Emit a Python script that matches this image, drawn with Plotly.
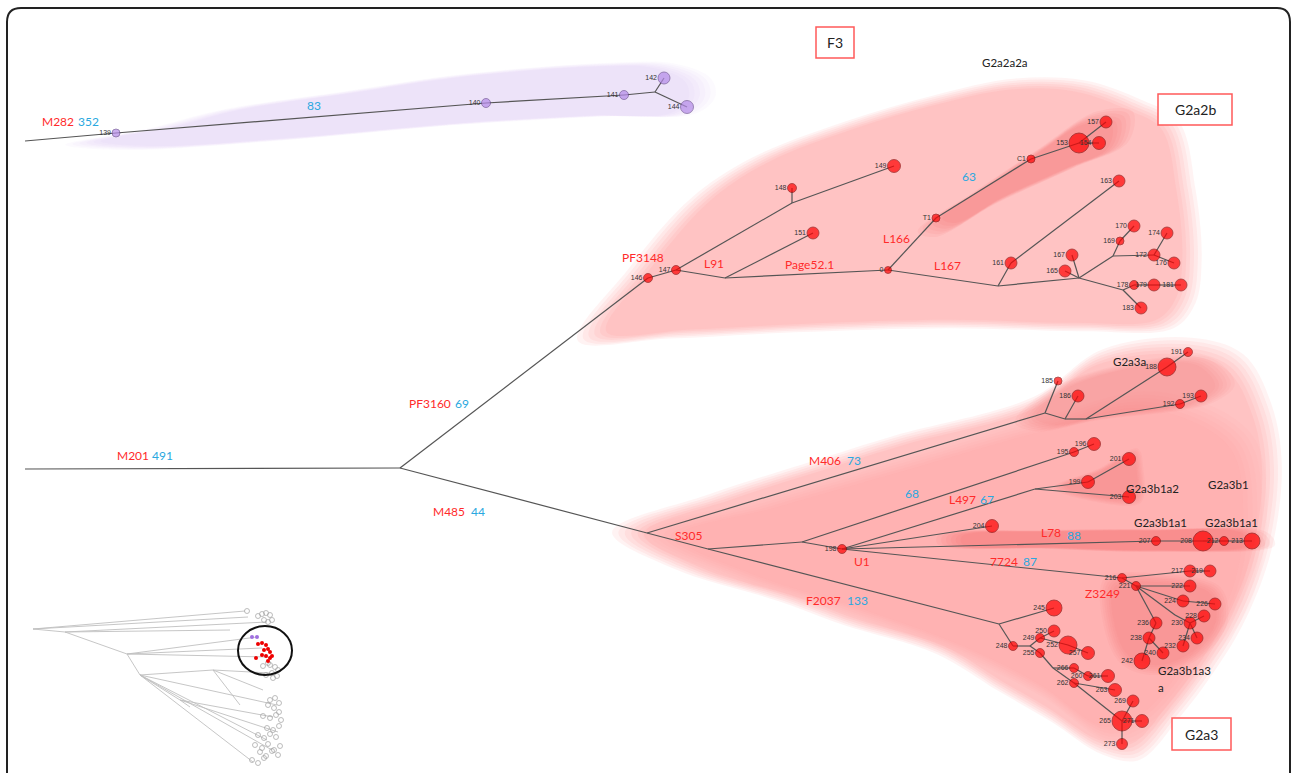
import plotly.graph_objects as go

W, H = 1292, 773

# ---------------- nodes (id, x, y, size) ----------------
node_id = ["139", "140", "141", "142", "144",
           "146", "147", "148", "149", "151", "0", "T1", "C1", "153", "154", "157",
           "161", "163", "165", "167", "169", "170", "172", "174", "176", "178", "179", "181", "183",
           "198", "185", "186", "188", "191", "192", "193", "195", "196", "199", "201", "203", "204",
           "207", "208", "212", "213", "216", "217", "219", "221", "222", "224", "226", "228", "230",
           "232", "234", "236", "238", "240", "242", "245", "248", "249", "250", "252", "255", "257",
           "266", "260", "261", "262", "263", "265", "271", "269", "273"]
node_x = [116, 486, 624, 664, 687,
          648, 676, 792, 894, 813, 888, 936, 1031, 1079, 1099, 1106,
          1011, 1119, 1065, 1072, 1120, 1134, 1154, 1167, 1174, 1134, 1154, 1181, 1141,
          842, 1058, 1078, 1167, 1188, 1180, 1201, 1074, 1094, 1088, 1129, 1129, 992,
          1156, 1203, 1224, 1252, 1122, 1190, 1210, 1136, 1190, 1183, 1215, 1204, 1190,
          1183, 1197, 1156, 1149, 1163, 1142, 1054, 1013, 1040, 1054, 1068, 1040, 1088,
          1074, 1088, 1108, 1074, 1115, 1122, 1142, 1133, 1122]
node_y = [133, 103, 95, 78, 107,
          278, 270, 188, 166, 233, 270, 218, 159, 143, 143, 122,
          263, 181, 271, 255, 241, 226, 255, 233, 263, 285, 285, 285, 308,
          549, 381, 396, 367, 352, 404, 396, 452, 444, 482, 459, 497, 526,
          541, 541, 541, 541, 578, 571, 571, 586, 586, 601, 604, 616, 623,
          646, 638, 623, 638, 653, 661, 608, 646, 638, 631, 645, 653, 653,
          668, 676, 676, 683, 690, 721, 721, 701, 744]
node_size = [8, 9, 9, 12, 13,
             9, 9, 9, 13, 12, 7, 8, 8, 20, 13, 12,
             12, 12, 12, 12, 8, 12, 12, 12, 12, 9, 12, 12, 12,
             9, 8, 12, 18, 9, 9, 12, 9, 13, 13, 13, 13, 13,
             9, 20, 9, 16, 9, 12, 12, 9, 12, 12, 12, 12, 12,
             12, 12, 12, 12, 12, 16, 16, 9, 9, 12, 18, 9, 13,
             9, 9, 13, 9, 13, 20, 13, 12, 11]
purple_ids = ["139", "140", "141", "142", "144"]

# junctions (unlabelled branching points)
junction_id = ["S0", "P", "J0", "J148", "J151", "J161", "J165", "J169", "J178",
               "JS", "Jb", "Jc", "Ja", "J186", "J188", "J199", "J230", "J248", "J249", "J266"]
junction_x = [25, 655, 400, 792, 725, 998, 1079, 1113, 1123,
              647, 708, 802, 1045, 1065, 1086, 1035, 1175, 999, 1030, 1053]
junction_y = [469, 92, 468, 203, 278, 286, 278, 256, 290,
              533, 549, 542, 413, 419, 419, 489, 615, 624, 646, 668]
purple_root = (25, 141)

edges = [("R2", "139"), ("139", "140"), ("140", "141"), ("141", "P"), ("P", "142"), ("P", "144"),
         ("S0", "J0"), ("J0", "146"), ("146", "147"), ("147", "J148"), ("J148", "148"), ("J148", "149"),
         ("147", "J151"), ("J151", "151"), ("J151", "0"), ("0", "T1"), ("T1", "C1"), ("C1", "153"),
         ("153", "154"), ("153", "157"), ("0", "J161"), ("J161", "161"), ("161", "163"), ("J161", "J165"),
         ("J165", "165"), ("J165", "167"), ("J165", "J169"), ("J169", "169"), ("169", "170"), ("J169", "172"),
         ("172", "174"), ("172", "176"), ("J165", "J178"), ("J178", "178"), ("178", "179"), ("179", "181"),
         ("J178", "183"),
         ("J0", "JS"), ("JS", "Ja"), ("JS", "Jb"), ("Jb", "Jc"), ("Jc", "198"), ("Jc", "195"), ("195", "196"),
         ("198", "J199"), ("J199", "199"), ("199", "201"), ("J199", "203"), ("198", "204"), ("198", "207"),
         ("207", "208"), ("208", "212"), ("212", "213"), ("198", "216"), ("216", "217"), ("217", "219"),
         ("216", "221"), ("221", "222"), ("221", "224"), ("224", "226"), ("221", "J230"), ("J230", "230"),
         ("230", "228"), ("230", "234"), ("230", "232"), ("221", "236"), ("236", "238"), ("238", "242"),
         ("238", "240"),
         ("Ja", "185"), ("Ja", "J186"), ("J186", "186"), ("J186", "J188"), ("J188", "188"), ("188", "191"),
         ("J188", "192"), ("192", "193"),
         ("Jb", "J248"), ("J248", "245"), ("J248", "248"), ("248", "J249"), ("J249", "249"), ("J249", "255"),
         ("249", "250"), ("249", "252"), ("252", "257"), ("255", "J266"), ("J266", "266"), ("266", "260"),
         ("260", "261"), ("J266", "262"), ("262", "263"), ("262", "265"), ("265", "269"), ("265", "271"),
         ("265", "273")]

# mutation labels (red) and counts (blue)
red_text = ["M282", "M201", "PF3160", "M485", "PF3148", "L91", "Page52.1", "L166", "L167",
            "M406", "S305", "L497", "U1", "L78", "7724", "F2037", "Z3249"]
red_x = [40, 115, 407, 431, 620, 702, 783, 881, 932, 807, 673, 947, 852, 1039, 988, 804, 1083]
red_y = [121, 455, 403, 511, 257, 263, 264, 238, 265, 460, 535, 499, 561, 532, 561, 600, 593]
blue_text = ["352", "83", "491", "69", "44", "63", "73", "68", "67", "88", "87", "133"]
blue_x = [76, 305, 150, 453, 469, 960, 845, 903, 978, 1065, 1021, 845]
blue_y = [121, 105, 455, 403, 511, 176, 460, 493, 499, 535, 561, 600]
hap_text = ["G2a2a2a", "G2a3a", "G2a3b1a2", "G2a3b1", "G2a3b1a1", "G2a3b1a1", "G2a3b1a3", "a"]
hap_x = [980, 1111, 1124, 1206, 1132, 1203, 1156, 1156]
hap_y = [62, 361, 488, 484, 522, 522, 670, 687]
box_text = ["F3", "G2a2b", "G2a3"]
box_x0 = [816, 1158, 1172]
box_y0 = [27, 94, 718]
box_x1 = [854, 1232, 1231]
box_y1 = [58, 125, 750]

# shaded haplogroup regions
blob_purple = [(83, 143), (160, 128), (230, 110), (350, 92), (459, 76), (597, 65), (665, 66), (698, 80),
               (702, 97), (684, 113), (597, 116), (459, 124), (275, 140), (138, 148)]
blob_top = [(592, 336), (640, 268), (700, 200), (760, 160), (850, 125), (935, 100), (1013, 84),
            (1080, 86), (1135, 105), (1170, 125), (1186, 190), (1192, 257), (1186, 300), (1165, 324),
            (1080, 327), (950, 324), (800, 328), (680, 334)]
blob_top_dark = [(930, 225), (980, 190), (1040, 150), (1090, 118), (1122, 118), (1118, 145),
                 (1070, 168), (1000, 200), (945, 230)]
blob_bottom = [(628, 533), (720, 497), (820, 465), (900, 440), (1033, 403), (1100, 357), (1185, 346),
               (1235, 362), (1262, 410), (1272, 470), (1262, 550), (1237, 617), (1207, 667),
               (1173, 712), (1135, 752), (1100, 747), (1050, 715), (1000, 686), (940, 650),
               (850, 622), (787, 599), (687, 568)]
blob_bottom_mid = [(660, 535), (760, 505), (900, 465), (1040, 425), (1150, 400), (1240, 440), (1255, 520),
                   (1240, 600), (1200, 660), (1150, 720), (1110, 735), (1040, 690), (960, 650),
                   (850, 610), (740, 575)]
blob_g2a3a = [(1025, 420), (1060, 388), (1150, 362), (1205, 362), (1225, 385), (1205, 402),
              (1100, 418), (1045, 428)]
blob_b1a2 = [(1060, 487), (1100, 470), (1135, 452), (1140, 470), (1138, 500), (1100, 500)]
blob_l78 = [(950, 536), (1050, 531), (1150, 530), (1255, 533), (1262, 545), (1150, 551), (1050, 548),
            (950, 544)]
blob_z = [(1110, 582), (1160, 578), (1215, 590), (1222, 620), (1205, 648), (1160, 670), (1125, 660),
          (1108, 620)]

# inset overview tree (grey)
inset_pts = {"R": (33, 629), "A": (65, 632), "B": (127, 654), "C": (140, 675), "D": (213, 670),
             "E": (180, 700)}
inset_lines = [("R", (245, 611)), ("R", (248, 617)), ("R", "A"), ("A", (267, 622)), ("A", (230, 630)),
               ("A", "B"), ("B", (257, 637)), ("B", (262, 648)), ("B", (268, 657)), ("B", "C"),
               ("C", "D"), ("D", (270, 673)), ("D", (263, 690)), ("C", (277, 705)), ("C", "E"),
               ("E", (273, 717)), ("E", (278, 732)), ("C", (267, 740)), ("C", (272, 750)),
               ("C", (253, 762)), ("E", (190, 707)), ("D", (240, 705))]
inset_grey_x = [247, 258, 262, 266, 270, 264, 268, 272, 268, 263, 270, 275, 278, 272, 266, 273, 277,
                270, 275, 279, 268, 274, 279, 263, 270, 276, 281, 267, 273, 279, 258, 264, 270, 276,
                255, 262, 268, 274, 280, 260, 266, 272, 278, 252, 258, 264]
inset_grey_y = [611, 616, 614, 613, 615, 620, 622, 620, 663, 666, 665, 667, 670, 673, 675, 678, 676,
                700, 698, 703, 705, 708, 712, 716, 718, 715, 720, 728, 730, 726, 735, 738, 734, 737,
                745, 748, 744, 750, 746, 752, 756, 751, 755, 760, 763, 758]
inset_red_x = [258, 262, 266, 268, 264, 270, 266, 270, 262, 268, 272, 256]
inset_red_y = [644, 643, 645, 649, 650, 652, 656, 658, 655, 661, 656, 658]
inset_purple_x = [252, 257]
inset_purple_y = [637, 637]

# ------------------------------------------------------------
pos = {i: (x, y) for i, x, y in zip(node_id, node_x, node_y)}
pos.update({i: (x, y) for i, x, y in zip(junction_id, junction_x, junction_y)})
pos["R2"] = purple_root

fig = go.Figure()


def blob(pts, rgb, total_alpha, spread=0.06, n=6):
    cx = sum(p[0] for p in pts) / len(pts)
    cy = sum(p[1] for p in pts) / len(pts)
    a = 1 - (1 - total_alpha) ** (1.0 / n)
    for k in range(n):
        g = 1 + spread - 2 * spread * k / (n - 1)
        xs = [cx + (p[0] - cx) * g for p in pts] + [cx + (pts[0][0] - cx) * g]
        ys = [cy + (p[1] - cy) * g for p in pts] + [cy + (pts[0][1] - cy) * g]
        fig.add_trace(go.Scatter(x=xs, y=ys, fill="toself",
                                 fillcolor=f"rgba({rgb[0]},{rgb[1]},{rgb[2]},{a:.3f})", mode="lines",
                                 line=dict(width=0, shape="spline", smoothing=1.0), hoverinfo="skip",
                                 showlegend=False))


blob(blob_purple, (205, 175, 245), 0.3, 0.05)
blob(blob_top, (250, 120, 120), 0.42, 0.04)
blob(blob_bottom, (250, 120, 120), 0.42, 0.04)
blob(blob_bottom_mid, (245, 120, 120), 0.15, 0.05)
blob(blob_top_dark, (238, 90, 90), 0.35, 0.12)
blob(blob_g2a3a, (238, 100, 100), 0.3, 0.1)
blob(blob_b1a2, (238, 100, 100), 0.28, 0.12)
blob(blob_l78, (235, 80, 80), 0.35, 0.08)
blob(blob_z, (238, 100, 100), 0.28, 0.1)

# edges
ex, ey = [], []
for a, b in edges:
    ex += [pos[a][0], pos[b][0], None]
    ey += [pos[a][1], pos[b][1], None]
fig.add_trace(go.Scatter(x=ex, y=ey, mode="lines", line=dict(color="#555555", width=1.2),
                         hoverinfo="skip", showlegend=False))

# nodes
colors = ["#B48AE8" if i in purple_ids else "#FF0000" for i in node_id]
outl = ["#5a3c80" if i in purple_ids else "#7a0000" for i in node_id]
fig.add_trace(go.Scatter(x=node_x, y=node_y, mode="markers",
                         marker=dict(size=node_size, color=colors, line=dict(color=outl, width=0.8)),
                         hoverinfo="skip", showlegend=False))
fig.add_trace(go.Scatter(x=[x - s / 2 - 1 for x, s in zip(node_x, node_size)], y=node_y, mode="text",
                         text=node_id, textposition="middle left",
                         textfont=dict(size=7, color="#333333", family="Liberation Sans"),
                         hoverinfo="skip", showlegend=False))

# inset
ix, iy = [], []
for a, b in inset_lines:
    pa = inset_pts[a] if isinstance(a, str) else a
    pb = inset_pts[b] if isinstance(b, str) else b
    ix += [pa[0], pb[0], None]
    iy += [pa[1], pb[1], None]
fig.add_trace(go.Scatter(x=ix, y=iy, mode="lines", line=dict(color="#c0c0c0", width=0.9),
                         hoverinfo="skip", showlegend=False))
fig.add_trace(go.Scatter(x=inset_grey_x, y=inset_grey_y, mode="markers",
                         marker=dict(size=5, symbol="circle-open", color="#a0a0a0", line=dict(width=0.7)),
                         hoverinfo="skip", showlegend=False))
fig.add_trace(go.Scatter(x=inset_red_x, y=inset_red_y, mode="markers",
                         marker=dict(size=4, color="#ee0000"), hoverinfo="skip", showlegend=False))
fig.add_trace(go.Scatter(x=inset_purple_x, y=inset_purple_y, mode="markers",
                         marker=dict(size=4, color="#a070e0"), hoverinfo="skip", showlegend=False))

annotations = []
for t, x, y in zip(red_text, red_x, red_y):
    annotations.append(dict(x=x, y=y, text=t, showarrow=False, xanchor="left", yanchor="middle",
                            font=dict(size=12, color="#FF2A2A", family="Lato")))
for t, x, y in zip(blue_text, blue_x, blue_y):
    annotations.append(dict(x=x, y=y, text=t, showarrow=False, xanchor="left", yanchor="middle",
                            font=dict(size=12, color="#2AA8E0", family="Lato")))
for t, x, y in zip(hap_text, hap_x, hap_y):
    annotations.append(dict(x=x, y=y, text=t, showarrow=False, xanchor="left", yanchor="middle",
                            font=dict(size=11.5, color="#222222", family="Lato")))
shapes = []
for t, x0, y0, x1, y1 in zip(box_text, box_x0, box_y0, box_x1, box_y1):
    shapes.append(dict(type="rect", x0=x0, y0=y0, x1=x1, y1=y1, line=dict(color="#FF5A5A", width=1.5),
                       fillcolor="white", layer="above"))
    annotations.append(dict(x=(x0 + x1) / 2, y=(y0 + y1) / 2, text=t, showarrow=False,
                            font=dict(size=14, color="#222222", family="Lato")))

# frame and inset circle
shapes.append(dict(type="path", path="M 7,775 L 7,22 Q 7,8 21,8 L 1277,8 Q 1290,8 1290,22 L 1290,775",
                   line=dict(color="#222222", width=2)))
shapes.append(dict(type="circle", x0=238, y0=626, x1=292, y1=675, line=dict(color="#111111", width=2)))

fig.update_layout(width=W, height=H, margin=dict(l=0, r=0, t=0, b=0),
                  paper_bgcolor="white", plot_bgcolor="white",
                  xaxis=dict(range=[0, W], visible=False, fixedrange=True),
                  yaxis=dict(range=[H, 0], visible=False, fixedrange=True),
                  shapes=shapes, annotations=annotations, showlegend=False)
fig.write_html("out.html")
